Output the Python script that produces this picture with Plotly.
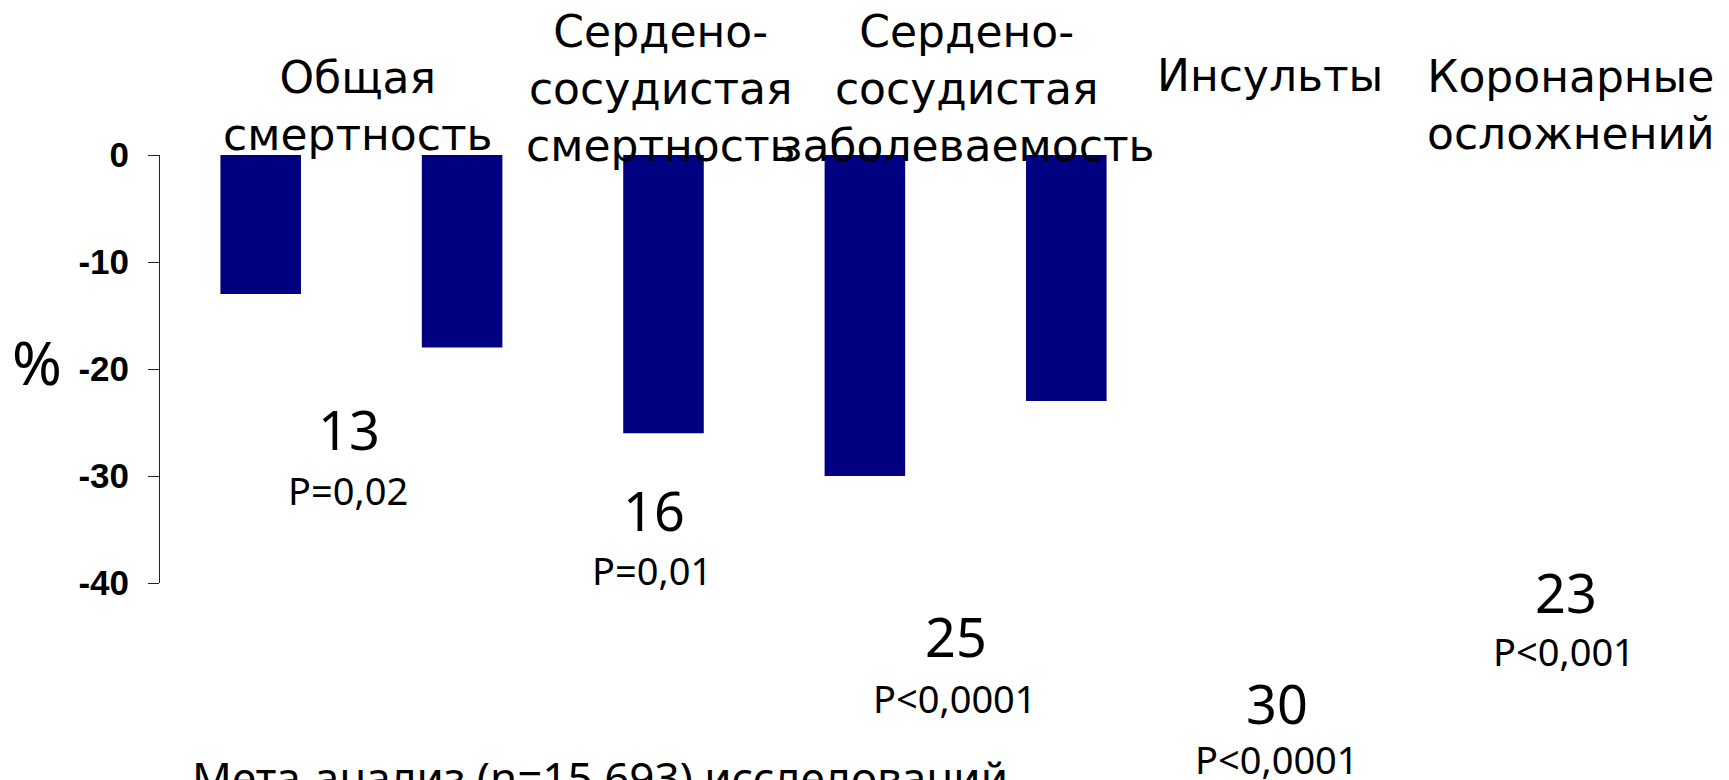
import plotly.graph_objects as go

# Categories (order of the bars) and bar heights, %
categories = [
    "Общая смертность",
    "Сердено-сосудистая смертность",
    "Сердено-сосудистая заболеваемость",
    "Инсульты",
    "Коронарные осложнений",
]
bar_values = [-13, -18, -26, -30, -23]

# Headline titles and the stated relative reductions with p-values
title_lines = [
    "Общая<br>смертность",
    "Сердено-<br>сосудистая<br>смертность",
    "Сердено-<br>сосудистая<br>заболеваемость",
    "Инсульты",
    "Коронарные<br>осложнений",
]
reductions = [13, 16, 25, 30, 23]
p_values = ["P=0,02", "P=0,01", "P<0,0001", "P<0,0001", "P<0,001"]

y_ticks = [0, -10, -20, -30, -40]
footnote = "Мета-анализ (n=15 693) исследований"

# ---- page geometry (pixels) ----
W, H = 1729, 780
PL, PR, PT, PB = 160, 1167, 155, 583   # plot area edges

def px(x):
    return (x - PL) / (PR - PL)

def py(y):
    return (PB - y) / (PB - PT)

# text placement on the page (centre x, bottom of last line / centre y)
title_pos = [(357, 161), (660, 172), (966, 172), (1270, 102), (1571, 160)]
value_pos = [(349, 429), (654, 510), (956, 636), (1277, 703), (1566, 592)]
pval_pos = [(348, 490), (652, 570), (955, 698), (1277, 759), (1564, 651)]

TEXT_FONT = "Noto Sans, DejaVu Sans, sans-serif"
TITLE_FONT = "DejaVu Sans, Noto Sans, sans-serif"
NAVY = "#000080"

fig = go.Figure()
fig.add_trace(
    go.Bar(
        x=list(range(len(categories))),
        y=bar_values,
        width=0.4,
        marker=dict(color=NAVY, line=dict(width=0)),
        hovertext=categories,
        hoverinfo="text+y",
    )
)

annotations = []
for text, (x, y) in zip(title_lines, title_pos):
    annotations.append(dict(
        text=text, x=px(x), y=py(y), xref="paper", yref="paper",
        xanchor="center", yanchor="bottom", showarrow=False,
        font=dict(family=TITLE_FONT, size=44, color="black"),
        align="center", borderpad=0,
    ))
for val, (x, y) in zip(reductions, value_pos):
    annotations.append(dict(
        text=str(val), x=px(x), y=py(y), xref="paper", yref="paper",
        xanchor="center", yanchor="middle", showarrow=False,
        font=dict(family=TEXT_FONT, size=54, color="black"),
    ))
for p, (x, y) in zip(p_values, pval_pos):
    annotations.append(dict(
        text=p, x=px(x), y=py(y), xref="paper", yref="paper",
        xanchor="center", yanchor="middle", showarrow=False,
        font=dict(family=TEXT_FONT, size=38, color="black"),
    ))
# axis unit
annotations.append(dict(
    text="%", x=px(37), y=py(362), xref="paper", yref="paper",
    xanchor="center", yanchor="middle", showarrow=False,
    font=dict(family=TEXT_FONT, size=60, color="black"),
))
# footnote, running off the bottom edge of the page
annotations.append(dict(
    text=footnote, x=px(600), y=py(745), xref="paper", yref="paper",
    xanchor="center", yanchor="top", showarrow=False,
    font=dict(family=TEXT_FONT, size=44, color="black"),
))

fig.update_layout(
    width=W, height=H,
    margin=dict(l=PL, r=W - PR, t=PT, b=H - PB, pad=0),
    paper_bgcolor="white", plot_bgcolor="white",
    showlegend=False,
    annotations=annotations,
    xaxis=dict(range=[-0.5, 4.5], visible=False, fixedrange=True),
    yaxis=dict(
        range=[-40, 0], tickvals=y_ticks, ticktext=[str(v) for v in y_ticks],
        showgrid=False, zeroline=False, showline=True,
        linecolor="#222222", linewidth=1,
        ticks="outside", ticklen=11, tickwidth=1, tickcolor="#222222",
        tickfont=dict(family="Liberation Sans, Arial, sans-serif", size=35, color="black", weight="bold"),
        ticklabelstandoff=12,
    ),
)

fig.write_html("out.html", config={"displayModeBar": False})
